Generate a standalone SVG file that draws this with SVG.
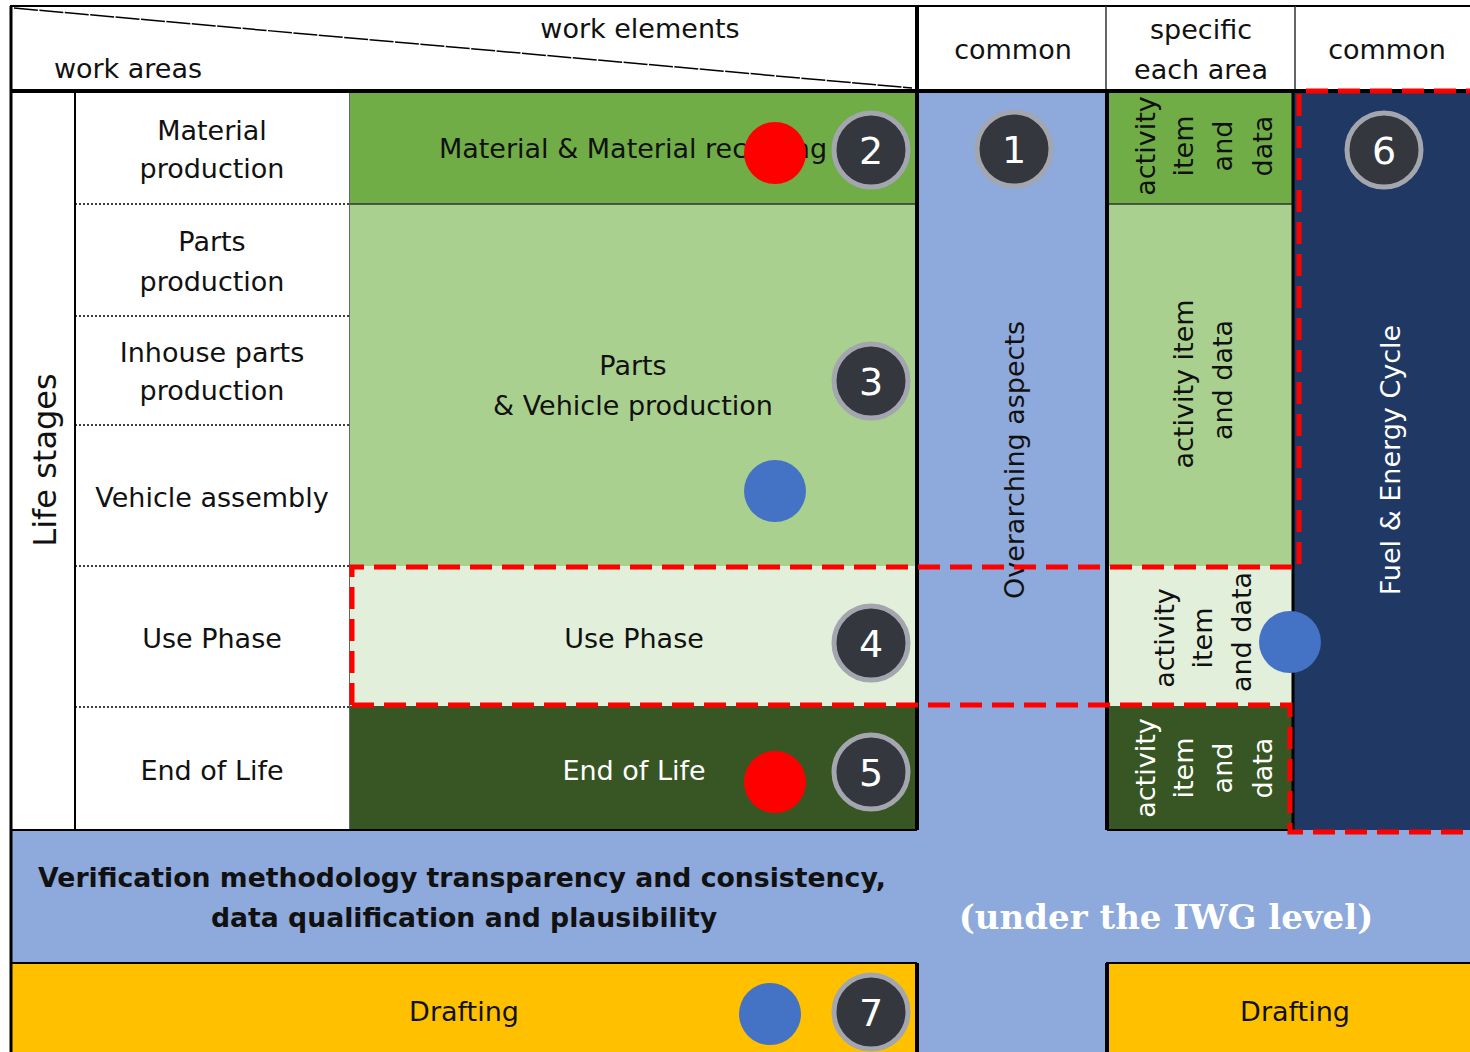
<svg xmlns="http://www.w3.org/2000/svg" width="1470" height="1052" viewBox="0 0 1470 1052">
<style>
.t{font-family:"DejaVu Sans","Verdana",sans-serif;font-size:27px;fill:#111;text-anchor:middle}
.w{fill:#fff}
.b{font-weight:bold;font-size:26.7px}
.num{font-family:"DejaVu Sans",sans-serif;font-size:38px;fill:#fff;text-anchor:middle}
.nc{fill:#34383E;stroke:#A3A6AE;stroke-width:5}
.dot{stroke:#000;stroke-width:1.5;stroke-dasharray:2 2}
.thin{stroke:#333;stroke-width:1.5}
.thick{stroke:#000;stroke-width:4}
.red{fill:none;stroke:#FF0000;stroke-width:5;stroke-dasharray:22 10}
</style>
<rect x="0" y="0" width="1470" height="1052" fill="#fff"/>
<g id="header">
  <rect x="10" y="6" width="1460" height="86" fill="#fff"/>
  <line x1="14" y1="8" x2="912" y2="88" stroke="#000" stroke-width="1.5" stroke-dasharray="24 1.5"/>
  <text class="t" x="640" y="38">work elements</text>
  <text class="t" x="128" y="78">work areas</text>
  <text class="t" x="1013" y="59">common</text>
  <text class="t" x="1201" y="39">specific</text>
  <text class="t" x="1201" y="79">each area</text>
  <text class="t" x="1387" y="59">common</text>
  <line x1="10" y1="6" x2="1470" y2="6" stroke="#000" stroke-width="2"/>
  <line x1="1106" y1="6" x2="1106" y2="92" class="thin"/>
  <line x1="1295" y1="6" x2="1295" y2="92" class="thin"/>
  <line x1="10" y1="91" x2="1470" y2="91" class="thick"/>
</g>
<g id="overarching">
  <rect x="919" y="93" width="187" height="870" fill="#8EA9DB"/>
  <text class="t" transform="translate(1024,460) rotate(-90)">Overarching aspects</text>
</g>
<g id="verification">
  <rect x="10" y="830" width="1460" height="133" fill="#8EA9DB"/>
  <rect x="917" y="963" width="189" height="89" fill="#8EA9DB"/>
  <text class="t b" x="462" y="887">Verification methodology transparency and consistency,</text>
  <text class="t b" x="464" y="927">data qualification and plausibility</text>
  <text x="1166" y="929" font-family="DejaVu Serif,serif" font-weight="bold" font-size="34" fill="#fff" text-anchor="middle">(under the IWG level)</text>
</g>
<g id="left-column">
  <rect x="10" y="93" width="340" height="737" fill="#fff"/>
  <text class="t" style="font-size:32px" transform="translate(56,460) rotate(-90)">Life stages</text>
  <text class="t" x="212" y="140">Material</text>
  <text class="t" x="212" y="178">production</text>
  <text class="t" x="212" y="251">Parts</text>
  <text class="t" x="212" y="291">production</text>
  <text class="t" x="212" y="362">Inhouse parts</text>
  <text class="t" x="212" y="400">production</text>
  <text class="t" x="212" y="507">Vehicle assembly</text>
  <text class="t" x="212" y="648">Use Phase</text>
  <text class="t" x="212" y="780">End of Life</text>
  <line x1="75" y1="204" x2="350" y2="204" class="dot"/>
  <line x1="75" y1="316" x2="350" y2="316" class="dot"/>
  <line x1="75" y1="425" x2="350" y2="425" class="dot"/>
  <line x1="75" y1="566" x2="350" y2="566" class="dot"/>
  <line x1="75" y1="707" x2="350" y2="707" class="dot"/>
  <line x1="75" y1="93" x2="75" y2="830" stroke="#000" stroke-width="2"/>
  <line x1="350" y1="93" x2="350" y2="830" class="thin"/>
</g>
<g id="material">
  <rect x="350" y="93" width="567" height="111" fill="#70AD47"/>
  <text class="t" x="633" y="158">Material &amp; Material recycling</text>
</g>
<g id="parts-vehicle">
  <rect x="350" y="204" width="567" height="362" fill="#A9D08E"/>
  <line x1="350" y1="204" x2="917" y2="204" class="thin"/>
  <text class="t" x="633" y="375">Parts</text>
  <text class="t" x="633" y="415">&amp; Vehicle production</text>
</g>
<g id="use-phase">
  <rect x="350" y="566" width="567" height="140" fill="#E2EFDA"/>
  <text class="t" x="634" y="648">Use Phase</text>
</g>
<g id="end-of-life">
  <rect x="350" y="706" width="567" height="124" fill="#375623"/>
  <text class="t w" x="634" y="780">End of Life</text>
</g>
<g id="specific">
  <rect x="1106" y="93" width="187" height="111" fill="#70AD47"/>
  <rect x="1106" y="204" width="187" height="362" fill="#A9D08E"/>
  <rect x="1106" y="566" width="187" height="140" fill="#E2EFDA"/>
  <rect x="1106" y="706" width="187" height="124" fill="#375623"/>
  <line x1="1106" y1="204" x2="1293" y2="204" class="thin"/>
  <text class="t" transform="translate(1155,146) rotate(-90)">activity</text>
  <text class="t" transform="translate(1193,146) rotate(-90)">item</text>
  <text class="t" transform="translate(1232,146) rotate(-90)">and</text>
  <text class="t" transform="translate(1272,146) rotate(-90)">data</text>
  <text class="t" transform="translate(1193,384) rotate(-90)">activity item</text>
  <text class="t" transform="translate(1232,380) rotate(-90)">and data</text>
  <text class="t" transform="translate(1174,638) rotate(-90)">activity</text>
  <text class="t" transform="translate(1212,638) rotate(-90)">item</text>
  <text class="t" transform="translate(1251,632) rotate(-90)">and data</text>
  <text class="t w" transform="translate(1155,768) rotate(-90)">activity</text>
  <text class="t w" transform="translate(1193,768) rotate(-90)">item</text>
  <text class="t w" transform="translate(1232,768) rotate(-90)">and</text>
  <text class="t w" transform="translate(1272,768) rotate(-90)">data</text>
  <line x1="1107" y1="93" x2="1107" y2="830" class="thick"/>
  <line x1="1107" y1="830" x2="1293" y2="830" stroke="#000" stroke-width="2"/>
</g>
<g id="fuel-energy">
  <rect x="1293" y="93" width="177" height="737" fill="#203864"/>
  <line x1="1293" y1="93" x2="1293" y2="830" stroke="#000" stroke-width="3"/>
  <text class="t w" transform="translate(1400,460) rotate(-90)">Fuel &amp; Energy Cycle</text>
</g>
<g id="drafting-left">
  <rect x="10" y="963" width="907" height="89" fill="#FFC000"/>
  <line x1="10" y1="963" x2="917" y2="963" stroke="#000" stroke-width="2"/>
  <text class="t" x="464" y="1021">Drafting</text>
</g>
<g id="drafting-right">
  <rect x="1106" y="963" width="364" height="89" fill="#FFC000"/>
  <line x1="1106" y1="963" x2="1470" y2="963" stroke="#000" stroke-width="2"/>
  <line x1="1107" y1="963" x2="1107" y2="1052" class="thick"/>
  <text class="t" x="1295" y="1021">Drafting</text>
</g>
<g id="borders">
  <line x1="917" y1="6" x2="917" y2="830" class="thick"/>
  <line x1="917" y1="963" x2="917" y2="1052" class="thick"/>
  <line x1="10" y1="830" x2="917" y2="830" stroke="#000" stroke-width="2"/>
  <line x1="11" y1="6" x2="11" y2="1052" stroke="#000" stroke-width="3"/>
</g>
<g id="connectors">
  <path class="red" d="M352,705 L352,567 L1299,567 L1299,91 L1470,91"/>
  <path class="red" d="M352,705 L1290,705 L1290,832 L1470,832"/>
</g>
<g id="markers">
  <circle cx="775" cy="153" r="31" fill="#FF0000"/>
  <circle cx="775" cy="491" r="31" fill="#4472C4"/>
  <circle cx="775" cy="782" r="31" fill="#FF0000"/>
  <circle cx="1290" cy="642" r="31" fill="#4472C4"/>
  <circle cx="770" cy="1014" r="31" fill="#4472C4"/>
</g>
<g id="num1"><circle class="nc" cx="1014" cy="149" r="37"/><text class="num" x="1014" y="163">1</text></g>
<g id="num2"><circle class="nc" cx="871" cy="150" r="37"/><text class="num" x="871" y="164">2</text></g>
<g id="num3"><circle class="nc" cx="871" cy="381" r="37"/><text class="num" x="871" y="395">3</text></g>
<g id="num4"><circle class="nc" cx="871" cy="643" r="37"/><text class="num" x="871" y="657">4</text></g>
<g id="num5"><circle class="nc" cx="871" cy="772" r="37"/><text class="num" x="871" y="786">5</text></g>
<g id="num6"><circle class="nc" cx="1384" cy="150" r="37"/><text class="num" x="1384" y="164">6</text></g>
<g id="num7"><circle class="nc" cx="871" cy="1012" r="37"/><text class="num" x="871" y="1026">7</text></g>
</svg>
